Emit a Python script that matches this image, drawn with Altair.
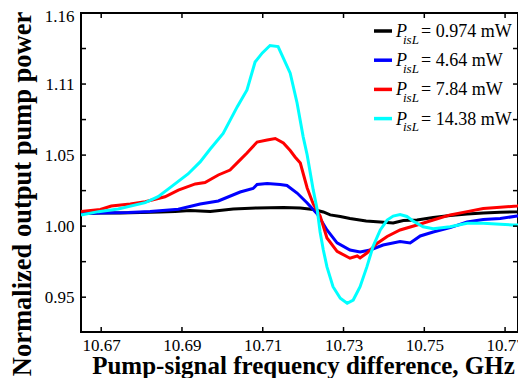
import altair as alt
import pandas as pd

# ---------------- data ----------------
black_f = [10.6650, 10.6698, 10.6747, 10.6797, 10.6846, 10.6883, 10.6920, 10.6970, 10.7027,
           10.7086, 10.7151, 10.7193, 10.7225, 10.7250, 10.7267, 10.7292, 10.7316, 10.7356,
           10.7391, 10.7423, 10.7448, 10.7482, 10.7522, 10.7564, 10.7606, 10.7646, 10.7688,
           10.7730, 10.7750]
black_v = [1.0089, 1.0093, 1.0093, 1.0096, 1.0100, 1.0103, 1.0110, 1.0103, 1.0121,
           1.0128, 1.0131, 1.0128, 1.0117, 1.0100, 1.0079, 1.0068, 1.0054, 1.0036,
           1.0029, 1.0022, 1.0040, 1.0043, 1.0061, 1.0075, 1.0086, 1.0093, 1.0098,
           1.0102, 1.0107]

blue_f = [10.6650, 10.6698, 10.6767, 10.6821, 10.6891, 10.6945, 10.6990, 10.7044, 10.7076,
          10.7086, 10.7111, 10.7143, 10.7160, 10.7185, 10.7210, 10.7235, 10.7259, 10.7284,
          10.7316, 10.7341, 10.7366, 10.7398, 10.7440, 10.7465, 10.7490, 10.7522, 10.7564,
          10.7606, 10.7646, 10.7688, 10.7730, 10.7750]
blue_v = [1.0089, 1.0093, 1.0096, 1.0103, 1.0119, 1.0156, 1.0177, 1.0240, 1.0265,
          1.0293, 1.0300, 1.0293, 1.0286, 1.0233, 1.0163, 1.0086, 0.9973, 0.9882,
          0.9832, 0.9818, 0.9832, 0.9867, 0.9892, 0.9881, 0.9931, 0.9959, 0.9990,
          1.0029, 1.0047, 1.0054, 1.0071, 1.0078]

red_f = [10.6650, 10.6698, 10.6725, 10.6772, 10.6809, 10.6858, 10.6891, 10.6933, 10.6957,
         10.6990, 10.7019, 10.7044, 10.7061, 10.7086, 10.7111, 10.7131, 10.7151, 10.7168,
         10.7180, 10.7193, 10.7210, 10.7225, 10.7242, 10.7259, 10.7284, 10.7316, 10.7334,
         10.7341, 10.7358, 10.7383, 10.7408, 10.7440, 10.7482, 10.7522, 10.7564, 10.7606,
         10.7646, 10.7688, 10.7730, 10.7750]
red_v = [1.0103, 1.0117, 1.0142, 1.0156, 1.0172, 1.0207, 1.0254, 1.0297, 1.0307,
         1.0360, 1.0395, 1.0466, 1.0515, 1.0592, 1.0606, 1.0617, 1.0585, 1.0532,
         1.0487, 1.0444, 1.0269, 1.0156, 1.0072, 0.9917, 0.9822, 0.9774, 0.9790,
         0.9776, 0.9811, 0.9878, 0.9927, 0.9973, 1.0008, 1.0043, 1.0079, 1.0102,
         1.0124, 1.0133, 1.0142, 1.0149]

cyan_f = [10.6650, 10.6693, 10.6742, 10.6809, 10.6841, 10.6873, 10.6915, 10.6945, 10.6970,
          10.7002, 10.7037, 10.7061, 10.7081, 10.7099, 10.7118, 10.7138, 10.7151, 10.7168,
          10.7185, 10.7200, 10.7210, 10.7225, 10.7235, 10.7242, 10.7250, 10.7259, 10.7274,
          10.7292, 10.7309, 10.7324, 10.7341, 10.7358, 10.7373, 10.7391, 10.7408, 10.7423,
          10.7440, 10.7457, 10.7472, 10.7497, 10.7522, 10.7564, 10.7606, 10.7646, 10.7688,
          10.7720, 10.7750]
cyan_v = [1.0078, 1.0102, 1.0121, 1.0165, 1.0207, 1.0276, 1.0367, 1.0452, 1.0543,
          1.0653, 1.0841, 1.0958, 1.1155, 1.1219, 1.1271, 1.1264, 1.1183, 1.1076,
          1.0867, 1.0630, 1.0501, 1.0255, 1.0114, 0.9959, 0.9832, 0.9713, 0.9574,
          0.9492, 0.9457, 0.9480, 0.9574, 0.9715, 0.9856, 0.9973, 1.0043, 1.0071,
          1.0082, 1.0068, 1.0036, 0.9996, 0.9981, 0.9996, 1.0020, 1.0020, 1.0013,
          1.0008, 1.0008]

series_f = [black_f, blue_f, red_f, cyan_f]
series_v = [black_v, blue_v, red_v, cyan_v]
series_colors = ["#000000", "#0000ff", "#ff0000", "#00ffff"]
legend_values = ["= 0.974 mW", "= 4.64 mW", "= 7.84 mW", "= 14.38 mW"]

x_tick_values = [10.67, 10.69, 10.71, 10.73, 10.75, 10.77]
y_tick_values = [0.95, 1.00, 1.05, 1.10, 1.15]
y_tick_labels = ["0.95", "1.00", "1.05", "1.11", "1.16"]
y_minor_ticks = [0.95, 0.975, 1.00, 1.025, 1.05, 1.075, 1.10, 1.125, 1.15]

x_domain = [10.6650, 10.7732]
y_domain = [0.9255, 1.15]

x_title = "Pump-signal frequency difference, GHz"
y_title = "Normalized output pump power"

# ---------------- layout ----------------
W, H = 437, 319
FONT = "Liberation Serif, Times New Roman, serif"

xs = alt.Scale(domain=x_domain, nice=False, zero=False)
ys = alt.Scale(domain=y_domain, nice=False, zero=False)

label_expr = ""
for v, lab in zip(y_tick_values, y_tick_labels):
    label_expr += f"abs(datum.value - {v}) < 0.001 ? '{lab}' : "
label_expr += "''"

x_axis = alt.Axis(values=x_tick_values, format=".2f", ticks=False, domain=False, grid=False,
                  labelFont=FONT, labelFontSize=17, labelColor="black", labelPadding=5,
                  labelFlush=False,
                  title=x_title, titleFont=FONT, titleFontSize=25, titleFontWeight="bold",
                  titleColor="black", titleBaseline="alphabetic", titleY=41, titleX=222,
                  titleAlign="center")
y_axis = alt.Axis(values=y_tick_values, labelExpr=label_expr, ticks=False, domain=False, grid=False,
                  labelFont=FONT, labelFontSize=17, labelColor="black", labelPadding=7,
                  labelFlush=False,
                  labelOffset={"condition": {"test": "datum.value > 1.14", "value": 3}, "value": 0},
                  title=y_title, titleFont=FONT, titleFontSize=26.5, titleFontWeight="bold",
                  titleColor="black", titleAngle=270, titleBaseline="bottom", titleAlign="center",
                  titleX=-45, titleY=180.5)

X = alt.X("f:Q", scale=xs, axis=x_axis)
Y = alt.Y("v:Q", scale=ys, axis=y_axis)

layers = []
for fs, vs, col in zip(series_f, series_v, series_colors):
    df = pd.DataFrame({"f": fs, "v": vs})
    layers.append(alt.Chart(df).mark_line(color=col, strokeWidth=3, clip=True).encode(x=X, y=Y))

# inward ticks on all four sides
ydf = pd.DataFrame({"v": y_minor_ticks})
xdf = pd.DataFrame({"f": x_tick_values})
TL = 5
for xa, xb in [(0, TL), (W - TL, W)]:
    layers.append(alt.Chart(ydf).mark_rule(color="black", strokeWidth=1.5).encode(
        y=Y, x=alt.value(xa), x2=alt.value(xb)))
for ya, yb in [(H, H - TL), (0, TL)]:
    layers.append(alt.Chart(xdf).mark_rule(color="black", strokeWidth=1.5).encode(
        x=X, y=alt.value(ya), y2=alt.value(yb)))

# manual legend
one = alt.Data(values=[{"k": 0}])
for i, (col, txt) in enumerate(zip(series_colors, legend_values)):
    ly = 18 + 29.2 * i
    layers.append(alt.Chart(one).mark_rule(color=col, strokeWidth=3.5).encode(
        x=alt.value(293), x2=alt.value(311), y=alt.value(ly)))
    layers.append(alt.Chart(one).mark_text(font=FONT, fontSize=18, fontStyle="italic", align="left",
                                           baseline="alphabetic", color="black").encode(
        x=alt.value(315), y=alt.value(ly + 6), text=alt.value("P")))
    layers.append(alt.Chart(one).mark_text(font=FONT, fontSize=13, fontStyle="italic", align="left",
                                           baseline="alphabetic", color="black").encode(
        x=alt.value(322), y=alt.value(ly + 12.5), text=alt.value("isL")))
    layers.append(alt.Chart(one).mark_text(font=FONT, fontSize=18, align="left",
                                           baseline="alphabetic", color="black").encode(
        x=alt.value(340), y=alt.value(ly + 6), text=alt.value(txt)))

chart = alt.layer(*layers).properties(
    width=W, height=H,
    autosize=alt.AutoSizeParams(type="none"),
    padding={"left": 73, "top": 5, "right": 0, "bottom": 46},
    background="white",
).configure_view(stroke="black", strokeWidth=2)

chart.save("out.html", embed_options={"renderer": "svg", "actions": False})
